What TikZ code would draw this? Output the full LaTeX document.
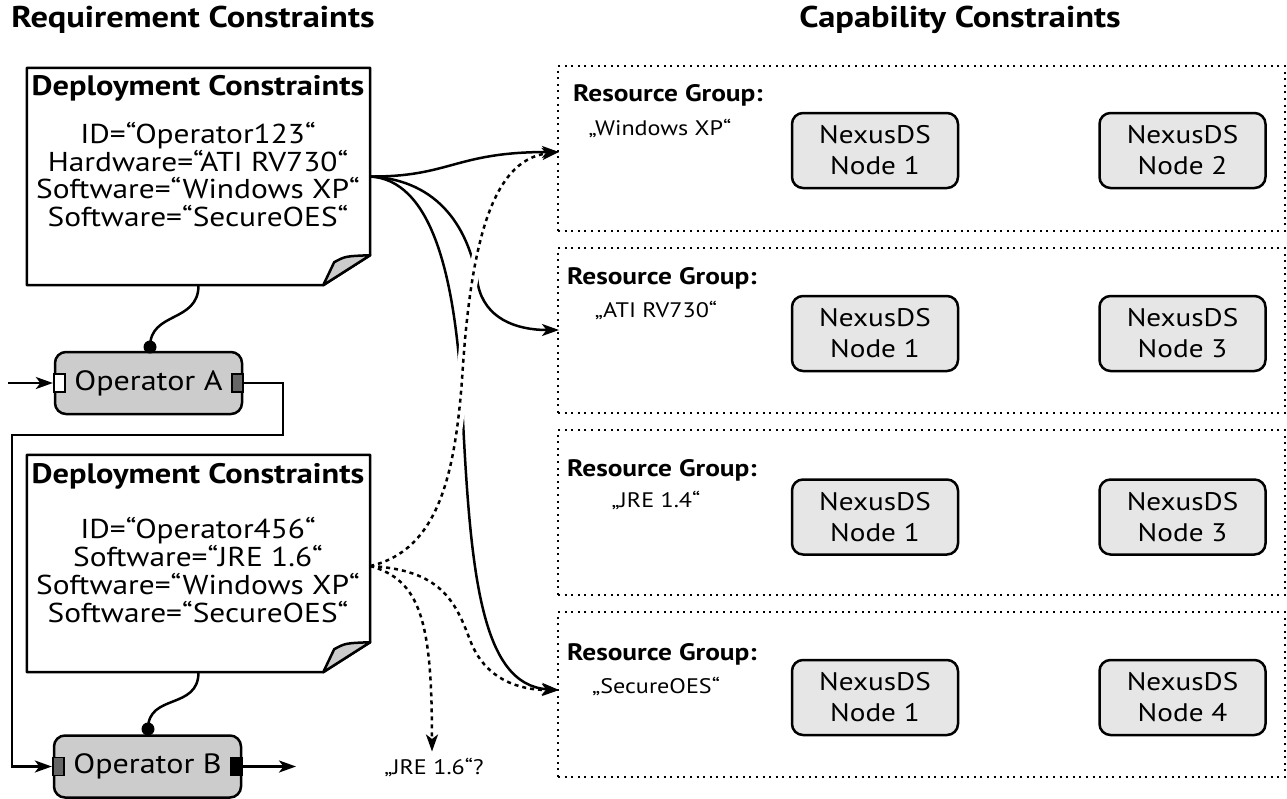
\documentclass[tikz,border=0pt]{standalone}
\usepackage{fontspec}
\setmainfont{PT Sans}[FakeStretch=1.15]
\usetikzlibrary{arrows.meta}
\definecolor{opgray}{HTML}{CCCCCC}
\definecolor{nxgray}{HTML}{E6E6E6}
\definecolor{portdark}{HTML}{666666}
\definecolor{foldgray}{HTML}{CCCCCC}
\begin{document}
\begin{tikzpicture}[x=1pt,y=-1pt,
  ln/.style={line width=2.5pt},
  ttl/.style={font=\fontsize{30}{36}\selectfont\bfseries, inner sep=0pt},
  dtitle/.style={font=\fontsize{28.2}{32}\selectfont\bfseries, inner sep=0pt},
  dbody/.style={font=\fontsize{27.3}{27.7}\selectfont, align=center, inner sep=0pt},
  docarea/.style={minimum width=343pt, minimum height=217pt, inner sep=0pt, draw=none},
  op/.style={draw, line width=2.5pt, fill=opgray, rounded corners=11pt, minimum width=187pt, minimum height=62pt, inner sep=0pt, font=\fontsize{27.9}{32}\selectfont},
  port/.style={draw, line width=1.8pt, minimum width=11pt, minimum height=18pt, inner sep=0pt},
  ball/.style={circle, fill=black, inner sep=0pt, minimum size=13pt},
  rg/.style={draw, line width=2.4pt, dash pattern=on 2pt off 4.6pt, minimum width=727pt, minimum height=165pt, inner sep=0pt},
  rglab/.style={font=\fontsize{23.8}{28}\selectfont\bfseries, inner sep=0pt},
  rgval/.style={font=\fontsize{21}{26}\selectfont, inner sep=0pt},
  nx/.style={draw, line width=2.5pt, fill=nxgray, rounded corners=11pt, minimum width=166pt, minimum height=75pt, inner sep=0pt, align=center, font=\fontsize{25.4}{31}\selectfont},
  arr/.style={line width=2.5pt, -{Stealth[length=17pt,width=12pt,inset=4.5pt]}},
  darr/.style={line width=2.5pt, dash pattern=on 4pt off 4pt, -{Stealth[length=17pt,width=12pt,inset=4.5pt]}},
  halo/.style={white, line width=11pt, line cap=butt, dash pattern=on 0pt off 140pt on 210pt off 2000pt}
]
\useasboundingbox (0,0) rectangle (1287,798);

% titles
\node[ttl] (tl) at (193,20) {Requirement Constraints};
\node[ttl] (tr) at (960,20) {Capability Constraints};

% resource groups
\node[rg] (rg1) at (921.5,148.5) {};
\node[rg] (rg2) at (921.5,330.5) {};
\node[rg] (rg3) at (921.5,512.5) {};
\node[rg] (rg4) at (921.5,694.5) {};

\node[rglab] (l1) at (668,95) {Resource Group:};
\node[rgval] (v1) at (660,128) {„Windows XP“};
\node[rglab] (l2) at (662,278) {Resource Group:};
\node[rgval] (v2) at (656,310) {„ATI RV730“};
\node[rglab] (l3) at (662,470) {Resource Group:};
\node[rgval] (v3) at (656,500) {„JRE 1.4“};
\node[rglab] (l4) at (662,654) {Resource Group:};
\node[rgval] (v4) at (656,686) {„SecureOES“};

\node[nx] (n11) at (875,150.5) {NexusDS\\Node 1};
\node[nx] (n12) at (1182.5,150.5) {NexusDS\\Node 2};
\node[nx] (n21) at (875,333.5) {NexusDS\\Node 1};
\node[nx] (n22) at (1182.5,333.5) {NexusDS\\Node 3};
\node[nx] (n31) at (875,517) {NexusDS\\Node 1};
\node[nx] (n32) at (1182.5,517) {NexusDS\\Node 3};
\node[nx] (n41) at (875,697.5) {NexusDS\\Node 1};
\node[nx] (n42) at (1182.5,697.5) {NexusDS\\Node 4};

\coordinate (t1) at (559,152);
\coordinate (t2) at (559,330);
\coordinate (t4) at (559,690);

% document 1
\node[docarea] (d1) at (198.5,176.5) {};
\draw[ln, fill=white, line join=round] (d1.north west) -- (d1.north east) -- ([yshift=30pt]d1.south east) -- ([xshift=-47pt]d1.south east) -- (d1.south west) -- cycle;
\filldraw[ln, fill=foldgray, line join=round] ([yshift=30pt]d1.south east) -- ([xshift=-47pt]d1.south east) -- ([xshift=-36pt,yshift=23pt]d1.south east) .. controls ([xshift=-25pt,yshift=29pt]d1.south east) .. ([yshift=30pt]d1.south east) -- cycle;
\node[dtitle] (d1t) at (198,88) {Deployment Constraints};
\node[dbody] (d1b) at (198,174.5) {ID=“Operator123“\\Hardware=“ATI RV730“\\Software=“Windows XP“\\Software=“SecureOES“};

% document 2
\node[docarea] (d2) at (198.5,563.5) {};
\draw[ln, fill=white, line join=round] (d2.north west) -- (d2.north east) -- ([yshift=30pt]d2.south east) -- ([xshift=-47pt]d2.south east) -- (d2.south west) -- cycle;
\filldraw[ln, fill=foldgray, line join=round] ([yshift=30pt]d2.south east) -- ([xshift=-47pt]d2.south east) -- ([xshift=-36pt,yshift=23pt]d2.south east) .. controls ([xshift=-25pt,yshift=29pt]d2.south east) .. ([yshift=30pt]d2.south east) -- cycle;
\node[dtitle] (d2t) at (198,476) {Deployment Constraints};
\node[dbody] (d2b) at (198,570) {ID=“Operator456“\\Software=“JRE 1.6“\\Software=“Windows XP“\\Software=“SecureOES“};

% operators
\node[op] (opA) at (148.5,383) {Operator A};
\node[port, fill=white] (pAin) at ([xshift=5.5pt]opA.west) {};
\node[port, fill=portdark] (pAout) at ([xshift=-5.5pt]opA.east) {};
\node[ball] (bA) at (150,347) {};

\node[op] (opB) at (147.5,766.5) {Operator B};
\node[port, fill=portdark] (pBin) at ([xshift=5.5pt]opB.west) {};
\node[port, fill=black] (pBout) at ([xshift=-5.5pt]opB.east) {};
\node[ball] (bB) at (148,729) {};

\draw[ln] (d1.south) .. controls +(0,38) and +(0,-36) .. (bA.center);
\draw[ln] (d2.south) .. controls +(0,38) and +(0,-36) .. (bB.center);

\coordinate (iA) at (8,383);
\coordinate (k1) at (283,435);
\coordinate (k2) at (12,435);
\coordinate (oB) at (296,766.5);
\draw[arr] (iA) -- (pAin.west);
\draw[arr, line join=miter] (pAout.east) -| (k1) -- (k2) |- (pBin.west);
\draw[arr] (pBout.east) -- (oB);

\node[rgval] (jre) at (434,767) {„JRE 1.6“?};

% solid connectors from document 1
\draw[arr] (d1.east) .. controls (450,177) and (455,152) .. (t1);
\draw[arr] (d1.east) .. controls (440,180) and (470,230) .. (478,285) .. controls (485,318) and (515,330) .. (t2);
\draw[arr] (d1.east) .. controls (430,180) and (455,270) .. (462,400) .. controls (470,570) and (480,685) .. (t4);

% dotted connectors from document 2
\coordinate (d2s) at ([yshift=-2.5pt]d2.east);
\draw[halo] (d2s) .. controls (440,550) and (455,470) .. (462,380) .. controls (470,250) and (490,160) .. (t1);
\draw[darr] (d2s) .. controls (440,550) and (455,470) .. (462,380) .. controls (470,250) and (490,160) .. (t1);
\draw[darr] (d2s) .. controls (440,570) and (455,600) .. (470,640) .. controls (485,680) and (520,690) .. (t4);
\draw[darr] (d2s) .. controls (420,580) and (432,620) .. ([xshift=-2pt,yshift=6pt]jre.north);
\end{tikzpicture}
\end{document}
